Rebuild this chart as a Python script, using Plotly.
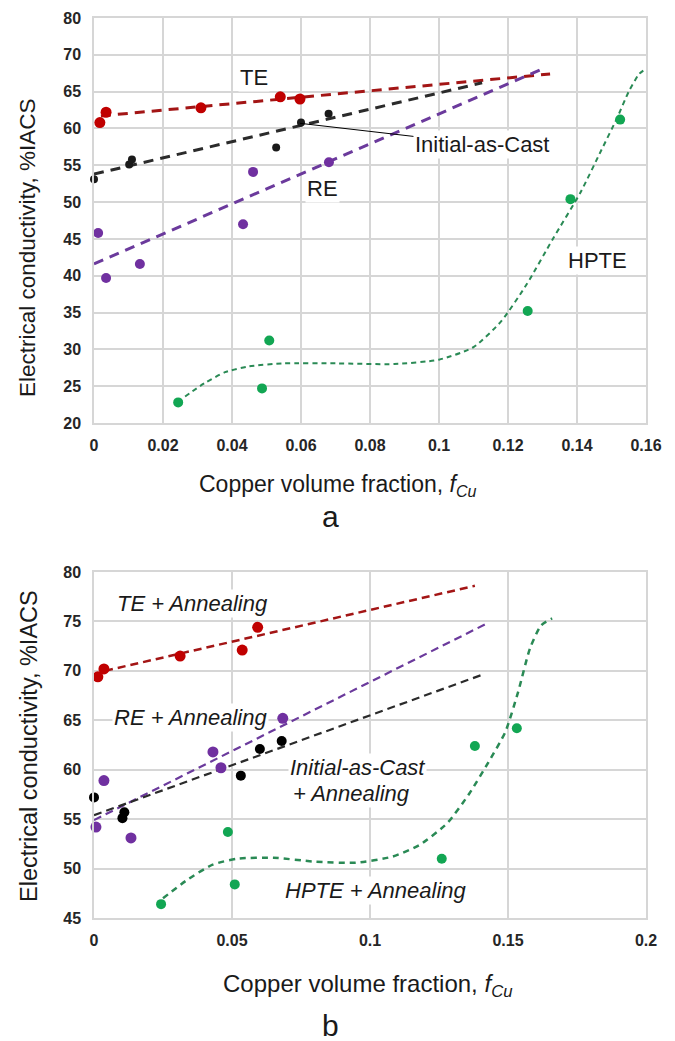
import plotly.graph_objects as go

# ---------------- data ----------------
# Panel a
te_x = [0.0017, 0.0035, 0.031, 0.054, 0.0597]
te_y = [60.8, 62.2, 62.8, 64.3, 64.0]
te_fit_x = [0.002, 0.1322]
te_fit_y = [61.7, 67.4]

cast_x = [0.0, 0.0102, 0.011, 0.0528, 0.060, 0.068]
cast_y = [53.1, 55.1, 55.8, 57.4, 60.8, 62.0]
cast_fit_x = [0.0, 0.1125]
cast_fit_y = [53.8, 66.2]

re_x = [0.0012, 0.0035, 0.0133, 0.0432, 0.0461, 0.0681]
re_y = [45.8, 39.7, 41.6, 47.0, 54.1, 55.4]
re_fit_x = [0.0, 0.131]
re_fit_y = [41.6, 68.3]

hpte_x = [0.0244, 0.0487, 0.0508, 0.1257, 0.1381, 0.1525]
hpte_y = [22.8, 24.7, 31.2, 35.2, 50.4, 61.2]
hpte_fit_x = [0.0264, 0.032, 0.038, 0.045, 0.055, 0.070, 0.087, 0.100, 0.110,
              0.118, 0.1255, 0.133, 0.141, 0.147, 0.1516, 0.155, 0.158, 0.160]
hpte_fit_y = [23.6, 25.4, 26.9, 27.7, 28.1, 28.1, 28.0, 28.6, 30.3,
              33.8, 38.9, 45.0, 51.3, 57.0, 61.4, 65.0, 67.4, 68.1]

# Panel b (after annealing)
te_b_x = [0.0014, 0.0036, 0.0312, 0.0537, 0.0593]
te_b_y = [69.4, 70.2, 71.5, 72.1, 74.4]
te_b_fit_x = [0.004, 0.138]
te_b_fit_y = [70.0, 78.6]

re_b_x = [0.0007, 0.0036, 0.0134, 0.0431, 0.046, 0.0684]
re_b_y = [54.2, 58.9, 53.1, 61.8, 60.2, 65.2]
re_b_fit_x = [0.0, 0.1424]
re_b_fit_y = [54.9, 74.8]

cast_b_x = [0.0, 0.0103, 0.011, 0.0532, 0.0601, 0.068]
cast_b_y = [57.2, 55.1, 55.7, 59.4, 62.1, 62.9]
cast_b_fit_x = [0.0, 0.1406]
cast_b_fit_y = [55.4, 69.6]

hpte_b_x = [0.0243, 0.0485, 0.051, 0.126, 0.138, 0.1532]
hpte_b_y = [46.4, 53.7, 48.4, 51.0, 62.4, 64.2]
hpte_b_fit_x = [0.025, 0.034, 0.043, 0.052, 0.065, 0.080, 0.095, 0.108, 0.118,
                0.128, 0.136, 0.143, 0.149, 0.1536, 0.158, 0.162, 0.166]
hpte_b_fit_y = [47.0, 48.9, 50.4, 51.0, 51.1, 50.7, 50.6, 51.2, 52.4,
                54.6, 57.6, 60.8, 63.8, 67.8, 72.3, 74.6, 75.3]

# tick labels
a_xticks = [0, 0.02, 0.04, 0.06, 0.08, 0.1, 0.12, 0.14, 0.16]
a_xticktext = ["0", "0.02", "0.04", "0.06", "0.08", "0.1", "0.12", "0.14", "0.16"]
a_yticks = [20, 25, 30, 35, 40, 45, 50, 55, 60, 65, 70, 75]
a_yticktext = ["20", "25", "30", "35", "40", "45", "50", "55", "60", "65", "70", "80"]
b_xticks = [0, 0.05, 0.1, 0.15, 0.2]
b_xticktext = ["0", "0.05", "0.1", "0.15", "0.2"]
b_yticks = [45, 50, 55, 60, 65, 70, 75, 80]
b_yticktext = ["45", "50", "55", "60", "65", "70", "75", "80"]

# ---------------- styling ----------------
W, H = 675, 1041
RED, RED_L = "#c00000", "#a31515"
BLK, BLK_L = "#1a1a1a", "#2b2b2b"
PUR, PUR_L = "#7030a0", "#6b3a9c"
GRN, GRN_L = "#12a653", "#2a8a55"
GRID = "#d6d6d6"
FONT = "Arial, Liberation Sans, sans-serif"
TXT = "#1a1a1a"


def px(x):
    return x / W


def py(y):
    return 1 - y / H


fig = go.Figure()


def add_line(x, y, color, width, dash, xa, ya, shape="linear"):
    fig.add_trace(go.Scatter(x=x, y=y, mode="lines", xaxis=xa, yaxis=ya,
                             line=dict(color=color, width=width, dash=dash, shape=shape,
                                       smoothing=0.6),
                             hoverinfo="skip", showlegend=False))


def add_pts(x, y, color, size, xa, ya):
    fig.add_trace(go.Scatter(x=x, y=y, mode="markers", xaxis=xa, yaxis=ya,
                             cliponaxis=False,
                             marker=dict(color=color, size=size, line=dict(width=0)),
                             showlegend=False))


# panel a lines
add_line(te_fit_x, te_fit_y, RED_L, 3, "10px,7px", "x", "y")
add_line(cast_fit_x, cast_fit_y, BLK_L, 3, "10px,7px", "x", "y")
add_line(re_fit_x, re_fit_y, PUR_L, 3, "10px,7px", "x", "y")
add_line(hpte_fit_x, hpte_fit_y, GRN_L, 2, "5px,4px", "x", "y", shape="spline")
# panel a points
add_pts(te_x, te_y, RED, 11, "x", "y")
add_pts(cast_x, cast_y, BLK, 8, "x", "y")
add_pts(re_x, re_y, PUR, 10, "x", "y")
add_pts(hpte_x, hpte_y, GRN, 10, "x", "y")

# panel b lines
add_line(te_b_fit_x, te_b_fit_y, RED_L, 2.5, "8px,5px", "x2", "y2")
add_line(re_b_fit_x, re_b_fit_y, PUR_L, 2.2, "8px,5px", "x2", "y2")
add_line(cast_b_fit_x, cast_b_fit_y, BLK_L, 2.2, "8px,5px", "x2", "y2")
add_line(hpte_b_fit_x, hpte_b_fit_y, GRN_L, 2.5, "6px,5px", "x2", "y2", shape="spline")
# panel b points
add_pts(te_b_x, te_b_y, RED, 11, "x2", "y2")
add_pts(re_b_x, re_b_y, PUR, 11, "x2", "y2")
add_pts(cast_b_x, cast_b_y, "#000000", 10, "x2", "y2")
add_pts(hpte_b_x, hpte_b_y, GRN, 10, "x2", "y2")

tickfont = dict(family=FONT, size=16, color="#262626", weight="bold")
axis_common = dict(showgrid=True, gridcolor=GRID, gridwidth=1.5, zeroline=False,
                   showline=True, linecolor=GRID, linewidth=1.5, mirror=True,
                   ticks="", tickfont=tickfont, automargin=False, fixedrange=True)

xdom = [px(94), px(646)]
fig.update_layout(
    width=W, height=H,
    margin=dict(l=0, r=0, t=0, b=0, pad=0),
    paper_bgcolor="white", plot_bgcolor="white",
    showlegend=False,
    xaxis=dict(domain=xdom, range=[0, 0.16], tickvals=a_xticks, ticktext=a_xticktext,
               anchor="y", ticklabelstandoff=7, **axis_common),
    yaxis=dict(domain=[py(423), py(18)], range=[20, 75], tickvals=a_yticks,
               ticktext=a_yticktext, anchor="x", ticklabelstandoff=8, **axis_common),
    xaxis2=dict(domain=xdom, range=[0, 0.2], tickvals=b_xticks, ticktext=b_xticktext,
                anchor="y2", ticklabelstandoff=7, **axis_common),
    yaxis2=dict(domain=[py(918), py(572)], range=[45, 80], tickvals=b_yticks,
                ticktext=b_yticktext, anchor="x2", ticklabelstandoff=8, **axis_common),
)

anns = []


def note(text, x, y, size=22, italic=False, bg=None, **kw):
    t = f"<i>{text}</i>" if italic else text
    d = dict(text=t, x=px(x), y=py(y), xref="paper", yref="paper", showarrow=False,
             xanchor="center", yanchor="middle",
             font=dict(family=FONT, size=size, color=TXT))
    if bg:
        d["bgcolor"] = bg
        d["borderpad"] = 1
    d.update(kw)
    anns.append(d)


# axis titles
xt = "Copper volume fraction, <i>f</i><sub><i>Cu</i></sub>"
note(xt, 338, 485, size=23)
note(xt, 368, 985, size=24)
note("Electrical conductivity, %IACS", 27, 248, size=22.5, textangle=-90)
note("Electrical conductivity, %IACS", 29, 746, size=23.5, textangle=-90)
note("a", 330, 516, size=30)
note("b", 330, 1025, size=30)

# panel a labels
note("TE", 254, 78, bg="white")
note("RE", 322, 189, bg="white")
note("HPTE", 597, 260, bg="white")
anns.append(dict(text="Initial-as-Cast", x=0.0597, y=60.7, xref="x", yref="y",
                 showarrow=True, arrowhead=0, arrowwidth=1, arrowcolor="#000000",
                 ax=182, ay=21, bgcolor="white", borderpad=1,
                 font=dict(family=FONT, size=22, color=TXT)))

# panel b labels
note("TE + Annealing", 192, 603, italic=True, bg="white")
note("RE + Annealing", 190, 717, italic=True, bg="white")
note("Initial-as-Cast", 357, 767, italic=True, bg="white")
note("+ Annealing", 352, 793, italic=True, bg="white")
note("HPTE + Annealing", 376, 890, italic=True, bg="white")

fig.update_layout(annotations=anns)
fig.write_html("out.html")
